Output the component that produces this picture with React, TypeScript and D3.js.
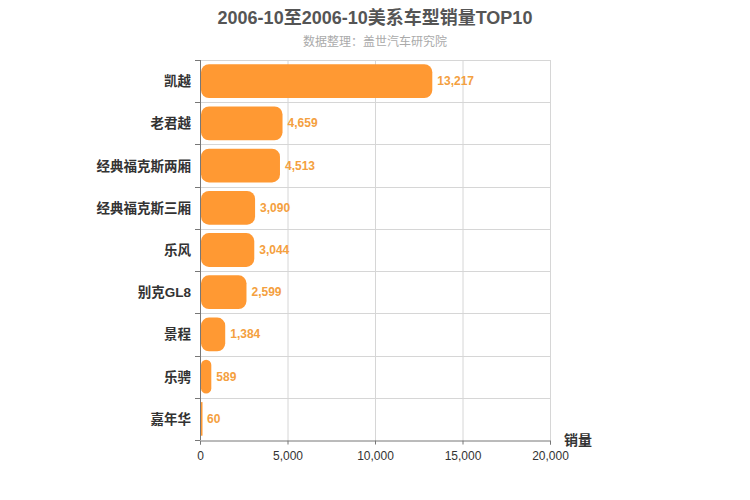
import { useEffect, useRef } from 'react'
import * as d3 from 'd3'

const categories = ['凯越', '老君越', '经典福克斯两厢', '经典福克斯三厢', '乐风', '别克GL8', '景程', '乐骋', '嘉年华']
const sales = [13217, 4659, 4513, 3090, 3044, 2599, 1384, 589, 60]
const xTicks = [0, 5000, 10000, 15000, 20000]

const FONT = '"Liberation Sans", Arial, "Noto Sans CJK SC", sans-serif'

export default function App() {
  const ref = useRef<SVGSVGElement | null>(null)
  useEffect(() => {
    const width = 750
    const height = 500
    const svg = d3.select(ref.current)
    svg.selectAll('*').remove()
    svg.attr('width', width).attr('height', height).style('font-family', FONT)

    const margin = { top: 60, left: 200, right: 200, bottom: 60 }
    const innerW = width - margin.left - margin.right
    const innerH = 440 - margin.top

    const x = d3.scaleLinear().domain([0, 20000]).range([0, innerW])
    const y = d3.scaleBand<string>().domain(categories).range([0, innerH]).paddingInner(0.2).paddingOuter(0.1)

    svg.append('text')
      .attr('x', width / 2).attr('y', 24)
      .attr('text-anchor', 'middle')
      .attr('font-size', 18).attr('font-weight', 'bold').attr('fill', '#555')
      .text('2006-10至2006-10美系车型销量TOP10')
    svg.append('text')
      .attr('x', width / 2).attr('y', 46)
      .attr('text-anchor', 'middle')
      .attr('font-size', 12).attr('fill', '#aaa')
      .text('数据整理：盖世汽车研究院')

    const g = svg.append('g').attr('transform', `translate(${margin.left},${margin.top})`)

    // grid
    g.selectAll(null).data(xTicks.slice(1)).enter().append('line')
      .attr('x1', (d) => x(d) + 0.5).attr('x2', (d) => x(d) + 0.5)
      .attr('y1', 0).attr('y2', innerH)
      .attr('stroke', '#d6d6d6')
    const step = y.step()
    const bounds = d3.range(categories.length).map((i) => i * step)
    g.selectAll(null).data(bounds).enter().append('line')
      .attr('x1', 0).attr('x2', innerW)
      .attr('y1', (d) => Math.round(d) + 0.5).attr('y2', (d) => Math.round(d) + 0.5)
      .attr('stroke', '#d6d6d6')

    // y axis
    const yAxis = g.append('g').attr('class', 'yaxis')
    yAxis.append('line').attr('x1', 0.5).attr('x2', 0.5).attr('y1', 0).attr('y2', innerH).attr('stroke', '#777')
    yAxis.selectAll(null).data([...bounds, innerH]).enter().append('line')
      .attr('x1', -5).attr('x2', 0)
      .attr('y1', (d) => Math.round(d) + 0.5).attr('y2', (d) => Math.round(d) + 0.5)
      .attr('stroke', '#777')
    yAxis.selectAll(null).data(categories).enter().append('text')
      .attr('x', -9)
      .attr('y', (d) => y(d)! + y.bandwidth() / 2 + 5)
      .attr('text-anchor', 'end')
      .attr('font-size', 13.5).attr('font-weight', 'bold').attr('fill', '#333')
      .text((d) => d)

    // bars
    g.selectAll(null).data(sales).enter().append('rect')
      .attr('x', 1)
      .attr('y', (_d, i) => y(categories[i])!)
      .attr('width', (d) => Math.max(1.5, x(d)))
      .attr('height', y.bandwidth())
      .attr('rx', (d) => Math.min(8, x(d) / 2))
      .attr('fill', '#ff9933')

    g.selectAll(null).data(sales).enter().append('text')
      .attr('x', (d) => x(d) + 6)
      .attr('y', (_d, i) => y(categories[i])! + y.bandwidth() / 2 + 4)
      .attr('font-size', 12).attr('font-weight', 'bold').attr('fill', '#f4a040')
      .text((d) => d3.format(',')(d))

    // x axis
    const xAxis = d3.axisBottom(x).tickValues(xTicks).tickFormat((d) => d3.format(',')(d as number)).tickSize(4)
    const xg = g.append('g').attr('transform', `translate(0,${innerH + 0.5})`).call(xAxis as any)
    xg.select('.domain').attr('stroke', '#777')
    xg.selectAll('.tick line').attr('stroke', '#777')
    xg.selectAll('.tick text').attr('fill', '#333').attr('font-size', 12).attr('font-family', FONT).attr('dy', '1em')

    svg.append('text')
      .attr('x', margin.left + innerW + 14).attr('y', margin.top + innerH + 5)
      .attr('font-size', 14).attr('font-weight', 'bold').attr('fill', '#333')
      .text('销量')
  }, [])
  return <svg ref={ref} style={{ position: 'absolute', left: 0, top: 0 }} />
}
